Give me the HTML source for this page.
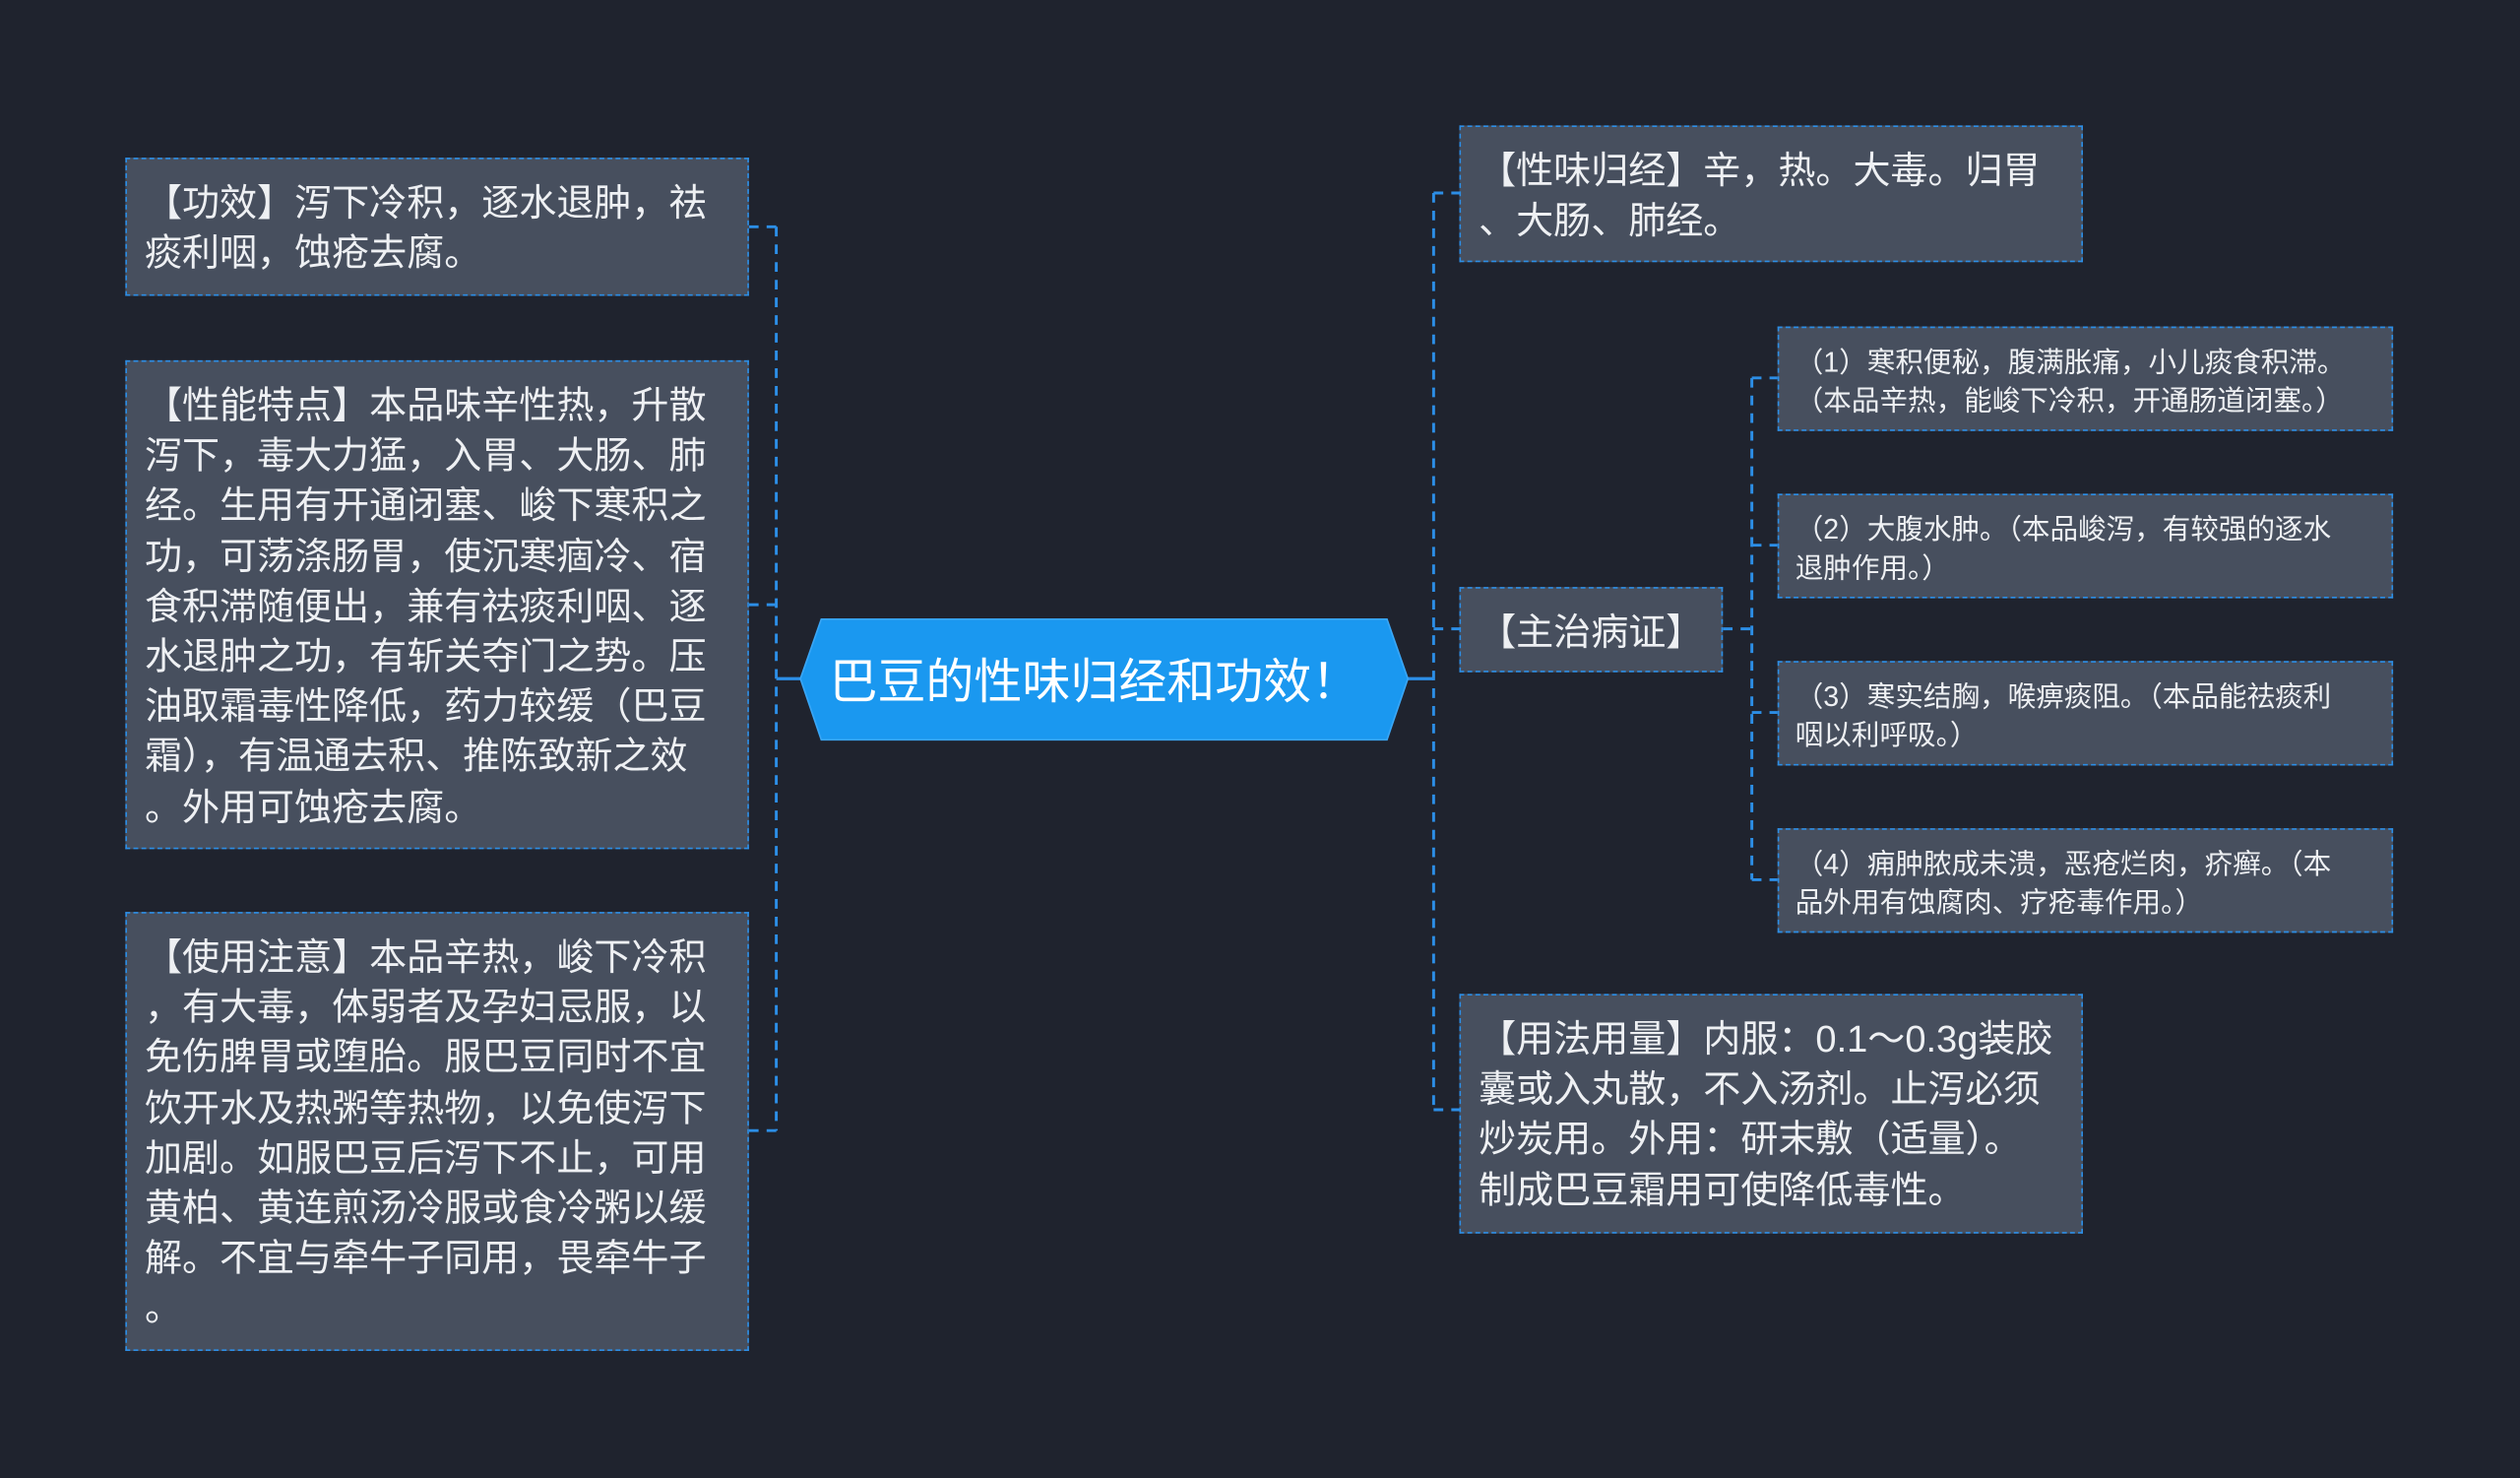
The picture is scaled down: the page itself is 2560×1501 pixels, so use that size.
<!DOCTYPE html>
<html><head><meta charset="utf-8"><style>
html,body{margin:0;padding:0;background:#1f232e;width:2560px;height:1501px;overflow:hidden}
#s{position:absolute;left:0;top:0;width:1568px;height:919px;transform:scale(1.6327,1.6333);transform-origin:0 0;font-family:"Liberation Sans","Noto Sans CJK SC",sans-serif}
.b{position:absolute;box-sizing:border-box;background:#474f5e;border:1.6px dashed #2c8ee6;color:#eef0f3;white-space:nowrap}
.L{font-size:23.3px;line-height:31.2px;padding:12px 0 0 11px}
.S{font-size:17.5px;line-height:23.5px;padding:10px 0 0 10px}
svg{position:absolute;left:0;top:0}
</style></head><body><div id="s">
<svg width="1568" height="919"><g stroke="#2c8ee6" stroke-width="1.8" fill="none" stroke-dasharray="6,5">
<path d="M483 141V703M466 141H483M466 376H483M466 703H483"/>
<path d="M892 120V690M892 120H908M892 391H908M892 690H908"/>
<path d="M1090 235V547M1072 391H1090M1090 235H1106M1090 339H1106M1090 443H1106M1090 547H1106"/>
</g><g stroke="#2c8ee6" stroke-width="2"><path d="M483 422H500M874 422H892"/></g>
<polygon points="511,385 863,385 876,422 863,460 511,460 498,422" fill="#1a98f0" stroke="#3aa6f5" stroke-width="1"/>
<text x="516" y="434" fill="#fff" font-size="30" font-family="Liberation Sans,Noto Sans CJK SC,sans-serif">巴豆的性味归经和功效！</text></svg>
<div class="b L" style="left:78px;top:98px;width:388px;height:86px">【功效】泻下冷积，逐水退肿，祛<br>痰利咽，蚀疮去腐。</div>
<div class="b L" style="left:78px;top:224px;width:388px;height:304px">【性能特点】本品味辛性热，升散<br>泻下，毒大力猛，入胃、大肠、肺<br>经。生用有开通闭塞、峻下寒积之<br>功，可荡涤肠胃，使沉寒痼冷、宿<br>食积滞随便出，兼有祛痰利咽、逐<br>水退肿之功，有斩关夺门之势。压<br>油取霜毒性降低，药力较缓（巴豆<br>霜），有温通去积、推陈致新之效<br>。外用可蚀疮去腐。</div>
<div class="b L" style="left:78px;top:567px;width:388px;height:273px">【使用注意】本品辛热，峻下冷积<br>，有大毒，体弱者及孕妇忌服，以<br>免伤脾胃或堕胎。服巴豆同时不宜<br>饮开水及热粥等热物，以免使泻下<br>加剧。如服巴豆后泻下不止，可用<br>黄柏、黄连煎汤冷服或食冷粥以缓<br>解。不宜与牵牛子同用，畏牵牛子<br>。</div>
<div class="b L" style="left:908px;top:78px;width:388px;height:85px">【性味归经】辛，热。大毒。归胃<br>、大肠、肺经。</div>
<div class="b L" style="left:908px;top:365px;width:164px;height:53px">【主治病证】</div>
<div class="b S" style="left:1106px;top:203px;width:383px;height:65px">（1）寒积便秘，腹满胀痛，小儿痰食积滞。<br>（本品辛热，能峻下冷积，开通肠道闭塞。）</div>
<div class="b S" style="left:1106px;top:307px;width:383px;height:65px">（2）大腹水肿。（本品峻泻，有较强的逐水<br>退肿作用。）</div>
<div class="b S" style="left:1106px;top:411px;width:383px;height:65px">（3）寒实结胸，喉痹痰阻。（本品能祛痰利<br>咽以利呼吸。）</div>
<div class="b S" style="left:1106px;top:515px;width:383px;height:65px">（4）痈肿脓成未溃，恶疮烂肉，疥癣。（本<br>品外用有蚀腐肉、疗疮毒作用。）</div>
<div class="b L" style="left:908px;top:618px;width:388px;height:149px">【用法用量】内服：0.1～0.3g装胶<br>囊或入丸散，不入汤剂。止泻必须<br>炒炭用。外用：研末敷（适量）。<br>制成巴豆霜用可使降低毒性。</div>
</div></body></html>
